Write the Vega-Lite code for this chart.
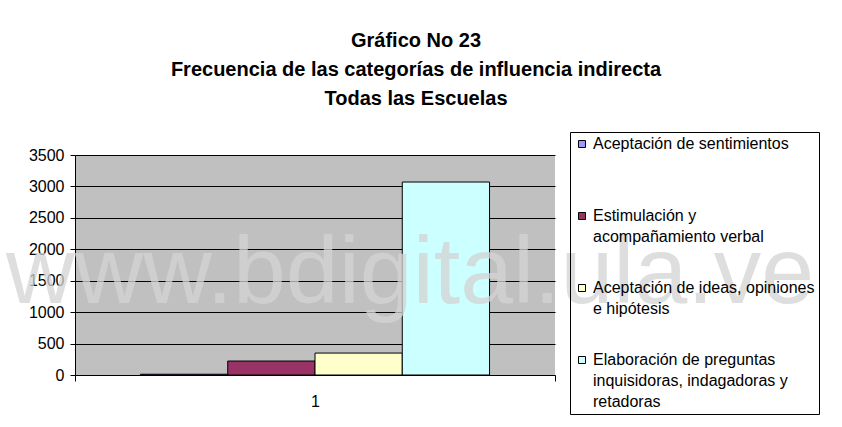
{
  "$schema": "https://vega.github.io/schema/vega-lite/v6.json",
  "width": 480,
  "height": 220,
  "autosize": {"type": "none"},
  "padding": {"left": 75, "top": 155, "right": 287, "bottom": 52},
  "background": "white",
  "title": {
    "text": ["Gráfico No 23", "Frecuencia de las categorías de influencia indirecta", "Todas las Escuelas"],
    "font": "Liberation Sans",
    "fontSize": 20,
    "fontWeight": "bold",
    "color": "black",
    "lineHeight": 29,
    "anchor": "middle",
    "frame": "group",
    "dx": 101,
    "offset": 23
  },
  "config": {
    "view": {"fill": "#c0c0c0", "stroke": null},
    "font": "Liberation Sans"
  },
  "data": {
    "values": [
      {"grupo": "1", "categoria": "Aceptación de sentimientos", "frecuencia": 12},
      {"grupo": "1", "categoria": "Estimulación y acompañamiento verbal", "frecuencia": 222},
      {"grupo": "1", "categoria": "Aceptación de ideas, opiniones e hipótesis", "frecuencia": 349},
      {"grupo": "1", "categoria": "Elaboración de preguntas inquisidoras, indagadoras y retadoras", "frecuencia": 3070}
    ]
  },
  "layer": [
    {
      "mark": {"type": "bar", "stroke": "black", "strokeWidth": 1, "opacity": 1},
      "encoding": {
        "x": {
          "field": "grupo",
          "type": "nominal",
          "scale": {"paddingInner": 0, "paddingOuter": 0},
          "axis": {
            "title": null,
            "labelAngle": 0,
            "labelFont": "Liberation Sans",
            "labelFontSize": 16,
            "labelColor": "black",
            "labelPadding": 12,
            "domainColor": "black",
            "tickColor": "black",
            "tickSize": 6,
            "tickBand": "extent",
            "grid": false
          }
        },
        "xOffset": {
          "field": "categoria",
          "type": "nominal",
          "sort": null,
          "scale": {"paddingInner": 0, "paddingOuter": 0.75}
        },
        "y": {
          "field": "frecuencia",
          "type": "quantitative",
          "scale": {"domain": [0, 3500], "nice": false},
          "axis": {
            "title": null,
            "values": [0, 500, 1000, 1500, 2000, 2500, 3000, 3500],
            "format": "d",
            "labelOverlap": false,
            "labelFont": "Liberation Sans",
            "labelFontSize": 16,
            "labelColor": "black",
            "labelPadding": 6,
            "domainColor": "black",
            "tickColor": "black",
            "tickSize": 5,
            "grid": true,
            "gridColor": "black",
            "gridOpacity": 1,
            "gridWidth": 1
          }
        },
        "color": {
          "field": "categoria",
          "type": "nominal",
          "sort": null,
          "scale": {"range": ["#9999ff", "#993366", "#ffffcc", "#ccffff"]},
          "legend": {
            "title": null,
            "orient": "none",
            "legendX": 495,
            "legendY": -23,
            "direction": "vertical",
            "strokeColor": "black",
            "padding": 4,
            "symbolType": "square",
            "symbolSize": 49,
            "symbolStrokeColor": "black",
            "symbolStrokeWidth": 1,
            "symbolOpacity": 1,
            "labelFont": "Liberation Sans",
            "labelFontSize": 16,
            "labelColor": "black",
            "labelOffset": 3,
            "labelLimit": 400,
            "labelBaseline": "top",
            "gridAlign": "all",
            "rowPadding": 14,
            "labelExpr": "datum.label == 'Estimulación y acompañamiento verbal' ? ['Estimulación y', 'acompañamiento verbal'] : datum.label == 'Aceptación de ideas, opiniones e hipótesis' ? ['Aceptación de ideas, opiniones', 'e hipótesis'] : datum.label == 'Elaboración de preguntas inquisidoras, indagadoras y retadoras' ? ['Elaboración de preguntas', 'inquisidoras, indagadoras y', 'retadoras'] : datum.label",
            "encode": {
              "labels": {"update": {"lineHeight": {"value": 21}, "dy": {"value": -8}}}
            }
          }
        }
      }
    },
    {
      "data": {"values": [{"marca": "www.bdigital.ula.ve"}]},
      "mark": {
        "type": "text",
        "font": "Liberation Sans",
        "fontSize": 95,
        "fill": "#d4d4d4",
        "opacity": 0.75,
        "align": "center",
        "baseline": "alphabetic",
        "dx": 95
      },
      "encoding": {
        "text": {"field": "marca", "type": "nominal"},
        "x": {
          "datum": "1",
          "axis": {
            "title": null,
            "labelAngle": 0,
            "labelFont": "Liberation Sans",
            "labelFontSize": 16,
            "labelColor": "black",
            "labelPadding": 12,
            "domainColor": "black",
            "tickColor": "black",
            "tickSize": 6,
            "tickBand": "extent",
            "grid": false
          }
        },
        "y": {
          "datum": 1150,
          "axis": {
            "title": null,
            "values": [0, 500, 1000, 1500, 2000, 2500, 3000, 3500],
            "format": "d",
            "labelOverlap": false,
            "labelFont": "Liberation Sans",
            "labelFontSize": 16,
            "labelColor": "black",
            "labelPadding": 6,
            "domainColor": "black",
            "tickColor": "black",
            "tickSize": 5,
            "grid": true,
            "gridColor": "black",
            "gridOpacity": 1,
            "gridWidth": 1
          }
        }
      }
    }
  ]
}
